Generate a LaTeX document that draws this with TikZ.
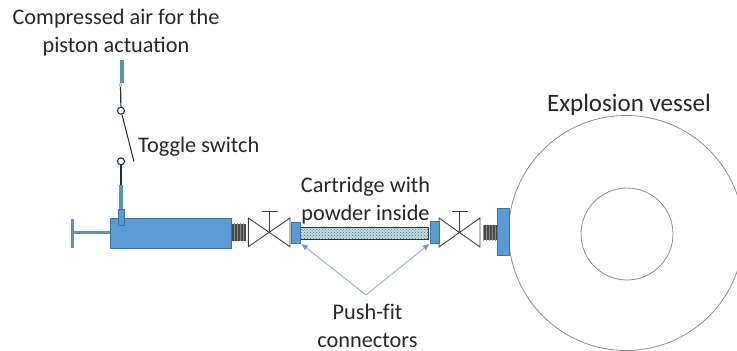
\documentclass[tikz,border=0pt]{standalone}
\usepackage{fontspec}
\setmainfont{Carlito}
\usetikzlibrary{patterns,arrows.meta}
\definecolor{fillblue}{HTML}{5B9BD5}
\definecolor{edgeblue}{HTML}{41719C}
\definecolor{pipeblue}{HTML}{5F93B5}
\definecolor{wirenavy}{HTML}{1F2A4D}
\definecolor{arrowblue}{HTML}{9DB4CC}
\definecolor{powder}{HTML}{C4DCE4}
\definecolor{powderdot}{HTML}{3D6F84}
\tikzset{
 lbl/.style={inner sep=0pt,font=\fontsize{22.3}{28}\selectfont,align=center,text=black!85},
 bluebox/.style={draw=edgeblue,fill=fillblue,line width=.6pt,inner sep=0pt},
 wire/.style={draw=wirenavy,line width=1.2pt},
 term/.style={circle,draw=wirenavy,line width=1.1pt,fill=white,minimum size=7pt,inner sep=0pt},
 valveline/.style={draw=black!75,line width=.9pt,line join=miter},
 thread/.style={preaction={fill=black!72},pattern=vertical lines,pattern color=black!45,inner sep=0pt,draw=none},
 callout/.style={draw=arrowblue,line width=1pt,-{Latex[length=7pt,width=6pt,color=fillblue]}},
 vessel/.style={draw=black!45,line width=.8pt}
}
\begin{document}
\begin{tikzpicture}[x=1pt,y=-1pt]
\useasboundingbox (0,0) rectangle (737,351);
\clip (0,0) rectangle (737,351);
% vessel
\draw[vessel] (626,233) circle (117.5);
\draw[vessel] (627,234) circle (46);
% flange, threads
\node[bluebox,minimum width=12pt,minimum height=47pt] (flange) at (503,232) {};
\node[thread,minimum width=14pt,minimum height=15pt] (thr2) at (490,232.5) {};
\node[thread,minimum width=14pt,minimum height=17pt] (thr1) at (238.7,232) {};
% actuator
\node[bluebox,minimum width=121pt,minimum height=30pt] (piston) at (171.2,233.3) {};
\coordinate (rodend) at (72.3,232.7);
\draw[pipeblue,line width=3pt] (rodend) -- (piston.west |- rodend);
\draw[pipeblue,line width=2.7pt] (72.3,219) -- (72.3,248);
\coordinate (pipetop) at (121,185);
\draw[pipeblue,line width=4.5pt] (pipetop) -- (121,218);
\node[bluebox,minimum width=6pt,minimum height=15.5pt] (port) at (121.3,217.2) {};
% switch
\coordinate (top1) at (122,60);
\coordinate (top2) at (122,83);
\draw[pipeblue,line width=4.5pt] (top1) -- (top2);
\node[term] (s1) at (121,110.7) {};
\node[term] (s2) at (121,161.3) {};
\node[circle,draw=black!40,fill=white,line width=.5pt,minimum size=3pt,inner sep=0pt] (s0) at (120.5,85) {};
\draw[wire] (s0) -- (s1);
\draw[wire] (s2) -- (pipetop);
\coordinate (armend) at (134,161.7);
\draw[draw=wirenavy,line width=1pt] (s1) -- (armend);
% valves
\draw[valveline] (248.3,218) -- (248.3,246.7) -- (290,218) -- (290,246.7) -- cycle;
\draw[valveline] (269.5,232.3) -- (269.5,211.7) (262.3,211.7) -- (277.7,211.7);
\draw[valveline] (439,218) -- (439,247) -- (480,218) -- (480,247) -- cycle;
\draw[valveline] (459.7,232.5) -- (459.7,211.7) (451.7,211.7) -- (467.7,211.7);
% cartridge
\node[draw=black!80,line width=.9pt,preaction={fill=powder},pattern=crosshatch dots,pattern color=powderdot,minimum width=128.5pt,minimum height=11.5pt,inner sep=0pt] (cart) at (364.2,233.3) {};
\node[bluebox,minimum width=9.4pt,minimum height=20.6pt] (c1) at (296,233) {};
\node[bluebox,minimum width=9.4pt,minimum height=21.6pt] (c2) at (434.7,232.5) {};
% labels
\node[lbl] (air) at (116,33) {Compressed air for the\\piston actuation};
\node[lbl,anchor=west] (tog) at (138,147) {Toggle switch};
\node[lbl] (cartl) at (365.5,201) {Cartridge with\\powder inside};
\node[lbl] (push) at (367.5,325.5) {Push-f\kern0pt it\\connectors};
\node[lbl,font=\fontsize{25}{28}\selectfont] (ves) at (629,105) {Explosion vessel};
% callouts
\coordinate (apex) at (366,295);
\draw[callout] (apex) -- (c1.south east);
\draw[callout] (apex) -- (c2.south west);
\end{tikzpicture}
\end{document}
